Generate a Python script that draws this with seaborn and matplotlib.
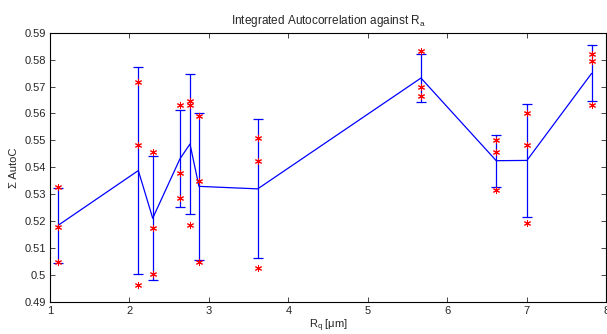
"""Integrated autocorrelation against Rq: mean +/- sd per sample with the raw runs."""

import matplotlib

matplotlib.use("Agg")
import matplotlib.pyplot as plt
import pandas as pd
import seaborn as sns
from matplotlib.ticker import FixedLocator, FixedFormatter

# Roughness of each sample (x) and the three integrated autocorrelation runs.
rq_um = [1.104, 2.111, 2.292, 2.635, 2.761, 2.874, 3.613, 5.667, 6.614, 7.0, 7.814]
autoc_run1 = [0.5327, 0.5717, 0.5457, 0.5632, 0.5645, 0.5590, 0.5509, 0.5832, 0.5500, 0.5600, 0.5821]
autoc_run2 = [0.5179, 0.5484, 0.5173, 0.5378, 0.5630, 0.5351, 0.5425, 0.5697, 0.5458, 0.5484, 0.5796]
autoc_run3 = [0.5049, 0.4963, 0.5003, 0.5285, 0.5185, 0.5047, 0.5026, 0.5666, 0.5316, 0.5193, 0.5630]

x_ticks = [1, 2, 3, 4, 5, 6, 7, 8]
x_tick_labels = ["1", "2", "3", "4", "5", "6", "7", "8"]
y_ticks = [0.49, 0.50, 0.51, 0.52, 0.53, 0.54, 0.55, 0.56, 0.57, 0.58, 0.59]
y_tick_labels = ["0.49", "0.5", "0.51", "0.52", "0.53", "0.54", "0.55", "0.56", "0.57", "0.58", "0.59"]

# Long format: one row per run, so seaborn aggregates mean and sd per x.
frame = pd.DataFrame(
    {
        "rq": rq_um * 3,
        "autoc": autoc_run1 + autoc_run2 + autoc_run3,
    }
)

sns.set_theme(style="ticks")
plt.rcParams["font.family"] = ["Liberation Sans", "DejaVu Sans"]
plt.rcParams["mathtext.fontset"] = "custom"
plt.rcParams["mathtext.rm"] = "Liberation Sans"

fig = plt.figure(figsize=(6.07, 3.34), dpi=100)
ax = fig.add_axes([0.0824, 0.096, 0.9166, 0.806])

# Mean line with standard deviation error bars (MATLAB errorbar look).
sns.lineplot(
    data=frame,
    x="rq",
    y="autoc",
    estimator="mean",
    errorbar="sd",
    err_style="bars",
    err_kws={"capsize": 3.6, "elinewidth": 0.9, "capthick": 0.9},
    color="#0000ff",
    linewidth=0.9,
    ax=ax,
)

# Individual runs as red asterisks.
sns.scatterplot(
    data=frame,
    x="rq",
    y="autoc",
    marker=(6, 2, 0),
    s=20,
    color="#ff0000",
    linewidth=0.75,
    zorder=3,
    ax=ax,
)

ax.set_xlim(1, 8)
ax.set_ylim(0.49, 0.59)
ax.xaxis.set_major_locator(FixedLocator(x_ticks))
ax.xaxis.set_major_formatter(FixedFormatter(x_tick_labels))
ax.yaxis.set_major_locator(FixedLocator(y_ticks))
ax.yaxis.set_major_formatter(FixedFormatter(y_tick_labels))
ax.tick_params(direction="in", top=True, right=True, length=3.5, width=0.6, labelsize=8, pad=3)
for spine in ax.spines.values():
    spine.set_visible(True)
    spine.set_linewidth(0.8)
    spine.set_color("black")

ax.set_title(r"Integrated Autocorrelation against R$_{\rm a}$", fontsize=8.5, pad=6)
ax.set_xlabel(r"R$_{\rm q}$ [μm]", fontsize=8, labelpad=1)
ax.set_ylabel("Σ AutoC", fontsize=8, labelpad=4)

fig.savefig("out.png", dpi=100)
plt.close(fig)
